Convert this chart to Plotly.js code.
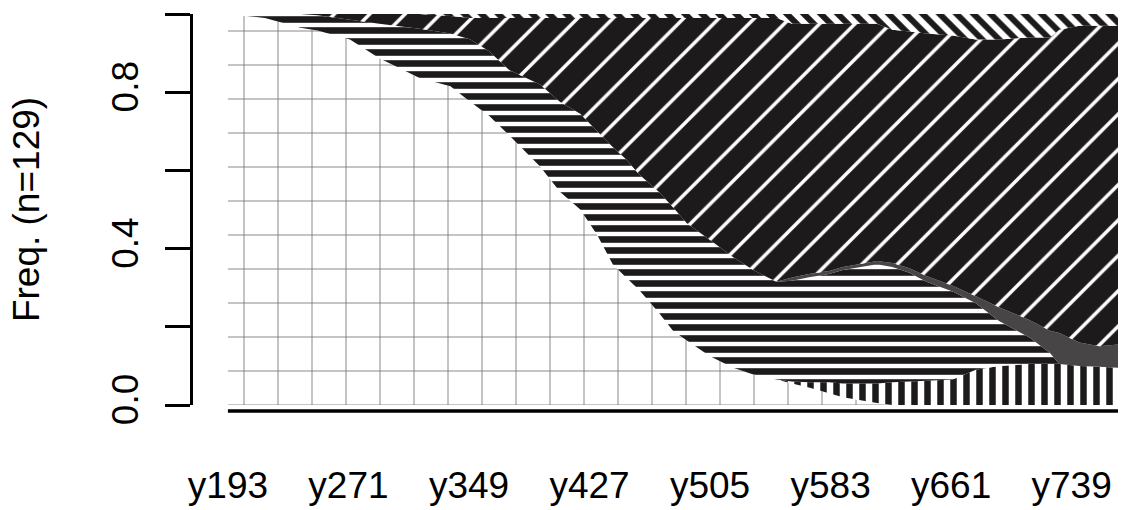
<!DOCTYPE html>
<html>
<head>
<meta charset="utf-8">
<script src="https://cdn.plot.ly/plotly-3.0.1.min.js"></script>
<style>
  html, body { margin: 0; padding: 0; background: #ffffff; }
  #chart { width: 1124px; height: 510px; }
</style>
</head>
<body>
<div id="chart"></div>
<script>
// Time positions (sequence positions y193 ... y769)
const positions = [193, 217, 240, 251, 272, 291, 317, 337, 350, 362, 375, 395, 408, 421, 432, 442, 451, 459, 472, 481, 490, 505, 520, 533, 548, 558, 569, 582, 591, 613, 623, 634, 645, 662, 677, 692, 712, 725, 731, 744, 757, 769];

// State frequencies (stacked bottom -> top)
const stateGrid  = [1.0, 0.99, 0.965, 0.958, 0.935, 0.887, 0.836, 0.815, 0.775, 0.74, 0.69, 0.61, 0.545, 0.50, 0.435, 0.36, 0.325, 0.295, 0.235, 0.19, 0.165, 0.125, 0.095, 0.078, 0.065, 0.055, 0.045, 0.03, 0.02, 0.005, 0, 0, 0, 0, 0, 0, 0, 0, 0, 0, 0, 0];
const stateVert  = [0, 0, 0, 0, 0, 0, 0, 0, 0, 0, 0, 0, 0, 0, 0, 0, 0, 0, 0, 0, 0, 0, 0, 0, 0, 0.005, 0.013, 0.028, 0.035, 0.05, 0.058, 0.06, 0.062, 0.065, 0.09, 0.10, 0.105, 0.105, 0.105, 0.10, 0.098, 0.095];
const stateHoriz = [0, 0.01, 0.035, 0.039, 0.05, 0.088, 0.126, 0.135, 0.16, 0.165, 0.167, 0.21, 0.23, 0.245, 0.265, 0.30, 0.302, 0.295, 0.31, 0.316, 0.30, 0.297, 0.283, 0.267, 0.25, 0.258, 0.269, 0.277, 0.29, 0.305, 0.295, 0.278, 0.253, 0.225, 0.17, 0.115, 0.067, 0.028, 0, 0, 0, 0];
const stateGray  = [0, 0, 0, 0, 0, 0, 0, 0, 0, 0, 0, 0, 0, 0, 0, 0, 0, 0, 0, 0, 0, 0, 0, 0, 0, 0.008, 0.008, 0.008, 0.008, 0.008, 0.01, 0.012, 0.015, 0.015, 0.018, 0.035, 0.045, 0.057, 0.079, 0.06, 0.052, 0.06];
const stateDiag  = [0, 0, 0, 0.003, 0.015, 0.025, 0.038, 0.045, 0.055, 0.085, 0.133, 0.17, 0.215, 0.245, 0.29, 0.33, 0.363, 0.40, 0.445, 0.484, 0.525, 0.568, 0.612, 0.645, 0.675, 0.649, 0.64, 0.632, 0.622, 0.607, 0.597, 0.605, 0.62, 0.64, 0.657, 0.685, 0.723, 0.75, 0.776, 0.81, 0.82, 0.815];
const stateBack  = [0, 0, 0, 0, 0, 0, 0, 0.005, 0.01, 0.01, 0.01, 0.01, 0.01, 0.01, 0.01, 0.01, 0.01, 0.01, 0.01, 0.01, 0.01, 0.01, 0.01, 0.01, 0.01, 0.025, 0.025, 0.025, 0.025, 0.025, 0.04, 0.045, 0.05, 0.055, 0.065, 0.065, 0.06, 0.06, 0.04, 0.03, 0.03, 0.03];

// Axis labels
const xTickVals = [193, 271, 349, 427, 505, 583, 661, 739];
const xTickText = ['y193', 'y271', 'y349', 'y427', 'y505', 'y583', 'y661', 'y739'];
const yTickVals = [0, 0.2, 0.4, 0.6, 0.8, 1.0];
const yTickText = ['0.0', '', '0.4', '', '0.8', ''];

const DARK = '#1c1a1a';

function layer(name, values, pattern, fillcolor) {
  const t = {
    type: 'scatter', mode: 'none', name: name,
    x: positions, y: values,
    stackgroup: 'one', fill: 'tonexty',
    line: { width: 0 },
    fillcolor: fillcolor,
    hoverinfo: 'skip'
  };
  if (pattern) t.fillpattern = pattern;
  return t;
}

const traces = [
  layer('grid', stateGrid, { shape: '+', size: 34, solidity: 0.05, fgcolor: '#7a7474', bgcolor: '#ffffff', fillmode: 'replace' }, '#ffffff'),
  layer('vert', stateVert, { shape: '|', size: 13, solidity: 0.5, fgcolor: DARK, bgcolor: '#ffffff', fillmode: 'replace' }, '#ffffff'),
  layer('horiz', stateHoriz, { shape: '-', size: 11, solidity: 0.6, fgcolor: DARK, bgcolor: '#ffffff', fillmode: 'replace' }, '#ffffff'),
  layer('gray', stateGray, null, '#474545'),
  layer('diag', stateDiag, { shape: '/', size: 25, solidity: 0.14, fgcolor: '#ffffff', bgcolor: DARK, fillmode: 'replace' }, DARK),
  layer('back', stateBack, { shape: '\\', size: 12, solidity: 0.5, fgcolor: DARK, bgcolor: '#ffffff', fillmode: 'replace' }, '#ffffff')
];

const FONT = 'Liberation Sans, Arial, Helvetica, sans-serif';

const layout = {
  width: 1124, height: 510,
  margin: { l: 193, r: 6, t: 14, b: 105, pad: 0 },
  paper_bgcolor: '#ffffff', plot_bgcolor: '#ffffff',
  showlegend: false,
  font: { family: FONT, size: 37, color: '#000000' },
  xaxis: {
    range: [170.4, 769],
    tickmode: 'array', tickvals: xTickVals, ticktext: xTickText,
    ticks: '', showgrid: false, zeroline: false, showline: false,
    tickfont: { family: FONT, size: 37, color: '#000000' },
    ticklabelstandoff: 55
  },
  yaxis: {
    range: [0, 1],
    tickmode: 'array', tickvals: yTickVals, ticktext: yTickText,
    ticks: 'outside', ticklen: 25, tickwidth: 3, tickcolor: '#000000',
    showline: true, linewidth: 3, linecolor: '#000000',
    showgrid: false, zeroline: false,
    tickangle: -90,
    tickfont: { family: FONT, size: 37, color: '#000000' },
    ticklabelstandoff: 12,
    title: { text: 'Freq. (n=129)', font: { family: FONT, size: 37, color: '#000000' }, standoff: 55 }
  },
  shapes: [
    { type: 'line', xref: 'x', yref: 'paper', x0: 193, x1: 769, y0: -0.0153, y1: -0.0153,
      line: { color: '#000000', width: 3.5 } }
  ]
};

Plotly.newPlot('chart', traces, layout, { staticPlot: true, displayModeBar: false });
</script>
</body>
</html>
